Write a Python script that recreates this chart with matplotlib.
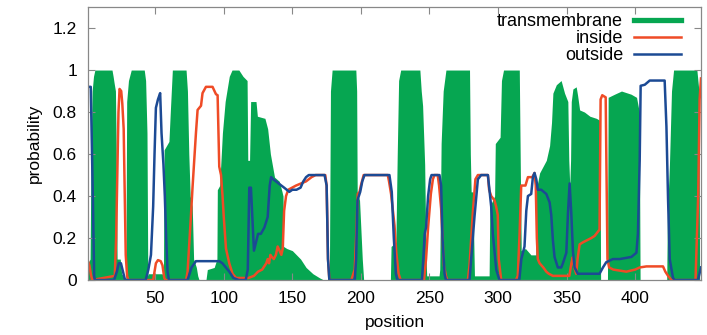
import numpy as np
import matplotlib
matplotlib.use('Agg')
import matplotlib.pyplot as plt

# --- data (position, probability) ---
tm_pos = [1, 2.5, 3.2, 4, 5, 6, 18.5, 19.3, 20, 21, 21.6, 22.2, 23, 24.5, 25.5, 28,
          28.6, 29.2, 30.5, 32.5, 42, 43, 44, 44.6, 45, 55,
          56, 56.5, 60, 61, 62.5, 72.5, 73.5, 74.5, 75.5, 77, 78, 79, 80, 81, 82, 87, 88, 93, 95,
          95.3, 97, 99, 101, 104, 106, 111, 114, 117, 117.5, 118.8, 119.6, 120.5, 123.5, 124.5,
          130, 132, 134, 137, 140.5, 142.5, 143.2, 143.6, 146, 150, 153, 156, 160, 165, 170, 173,
          177, 177.8, 179, 196.3, 196.9, 197.3, 199, 201, 202, 221.5,
          222, 225.5, 226.5, 227.5, 229, 243, 244, 245, 246.5, 247.5, 248, 257,
          257.5, 258.5, 260, 262, 279.2, 279.8, 280.4, 281.6, 282.8, 293.5,
          294, 297.5, 298, 301.5, 302.5, 304, 315.5, 316.3, 316.9, 320, 324, 327.5,
          327.9, 330.3, 335.2, 337.6, 339, 340, 342.5, 346, 348.5, 350.9, 351.6, 352.3, 352.9,
          353.4, 354.6, 357, 358, 359.5, 363, 367, 371.7, 374.3, 374.8, 379.8,
          380.3, 385, 390, 397, 401, 403, 403.6, 423,
          423.5, 425, 426.5, 428, 445, 446.5, 447, 448]
tm_val = [0.08, 0.1, 0.6, 0.9, 0.97, 1.0, 1.0, 0.97, 0.94, 0.9, 0.6, 0.1, 0.1, 0.1, 0.03, 0.01,
          0.0, 0.85, 0.95, 1.0, 1.0, 0.95, 0.7, 0.02, 0.03, 0.03,
          0.02, 0.62, 0.66, 0.8, 1.0, 1.0, 0.9, 0.6, 0.4, 0.35, 0.1, 0.08, 0.06, 0.02, 0.0, 0.0, 0.05, 0.06, 0.1,
          0.43, 0.45, 0.7, 0.85, 0.97, 1.0, 1.0, 0.97, 0.95, 0.57, 0.57, 0.85, 0.85, 0.85, 0.78,
          0.77, 0.72, 0.6, 0.49, 0.47, 0.42, 0.4, 0.16, 0.15, 0.14, 0.12, 0.1, 0.06, 0.03, 0.01, 0.0,
          0.0, 0.9, 1.0, 1.0, 0.9, 0.42, 0.38, 0.1, 0.0, 0.0,
          0.16, 0.18, 0.6, 0.95, 1.0, 1.0, 0.9, 0.83, 0.55, 0.1, 0.02, 0.02,
          0.05, 0.65, 0.9, 1.0, 1.0, 0.6, 0.42, 0.42, 0.02, 0.02,
          0.35, 0.4, 0.65, 0.68, 0.95, 1.0, 1.0, 0.5, 0.14, 0.15, 0.12, 0.12,
          0.43, 0.51, 0.57, 0.64, 0.75, 0.89, 0.93, 0.95, 0.89, 0.85, 0.57, 0.45, 0.57,
          0.85, 0.91, 0.92, 0.88, 0.81, 0.8, 0.78, 0.77, 0.76, 0.0, 0.0,
          0.87, 0.885, 0.9, 0.885, 0.87, 0.8, 0.0, 0.0,
          0.3, 0.55, 0.9, 1.0, 1.0, 0.9, 0.0, 0.0]

in_pos = [1, 2, 3, 4, 20.5, 21.5, 22.5, 23.2, 24, 25.2, 26, 27, 27.8, 28.5, 29.5, 30.5,
          48.5, 49.5, 50.5, 52, 54, 55.3, 56.6, 57.5,
          72.5, 73.6, 76, 77.2, 79.7, 80.9, 83.4, 84.5, 87, 91.8, 94.3, 95.5, 96.7, 98, 99.1,
          100, 101.6, 104, 106.4, 109, 118, 122, 125, 128, 131, 132, 133, 134, 135, 136.5,
          138, 139.3, 142, 143, 144, 145.4, 147, 152.7, 160, 164, 167, 174, 175, 176, 177,
          193, 195.5, 196.5, 197.7, 199, 200, 202, 219.6, 220.5, 222, 223, 224.5, 225.8, 227.5, 229,
          246, 247.5, 249, 251, 252.5, 253.6, 256, 257, 258.5, 259.5, 260.5, 262, 263,
          278, 279.2, 281.6, 283.5, 285.3, 292.6, 293.5, 295, 297.4, 298.6, 299.8, 300.5, 302.3,
          313, 314.4, 315.7, 316.9, 320, 321.8, 325, 326.6, 327.5, 328.3, 329, 330.3, 333,
          335.2, 337, 340, 352, 353.5, 354.6, 355.6, 357, 358, 359.5, 362, 365, 368, 370.4,
          372.8, 374, 374.8, 376, 378.5, 379.3, 379.8, 381, 384, 393.6, 400, 403.3, 408.2,
          420.3, 422, 424, 426.4, 444, 445, 446, 447, 448]
in_val = [0.09, 0.07, 0.03, 0.0, 0.02, 0.2, 0.55, 0.8, 0.91, 0.9, 0.84, 0.72, 0.4, 0.12, 0.02, 0.0,
          0.0, 0.04, 0.08, 0.095, 0.09, 0.07, 0.01, 0.0,
          0.0, 0.04, 0.3, 0.44, 0.7, 0.81, 0.83, 0.89, 0.92, 0.92, 0.885, 0.88, 0.54, 0.5, 0.4,
          0.3, 0.15, 0.08, 0.03, 0.01, 0.01, 0.02, 0.04, 0.05, 0.08, 0.1, 0.08, 0.12, 0.11, 0.1,
          0.12, 0.16, 0.12, 0.15, 0.33, 0.4, 0.43, 0.45, 0.47, 0.49, 0.5, 0.5, 0.45, 0.1, 0.0,
          0.0, 0.05, 0.2, 0.41, 0.42, 0.45, 0.5, 0.5, 0.47, 0.41, 0.35, 0.26, 0.13, 0.03, 0.0,
          0.0, 0.1, 0.25, 0.41, 0.48, 0.5, 0.5, 0.45, 0.34, 0.2, 0.07, 0.02, 0.0,
          0.0, 0.07, 0.32, 0.48, 0.5, 0.5, 0.43, 0.4, 0.38, 0.35, 0.31, 0.1, 0.0,
          0.0, 0.02, 0.22, 0.45, 0.45, 0.49, 0.49, 0.51, 0.45, 0.2, 0.1, 0.08, 0.06,
          0.04, 0.03, 0.02, 0.02, 0.08, 0.11, 0.06, 0.03, 0.1, 0.17, 0.18, 0.19, 0.2, 0.21,
          0.23, 0.24, 0.86, 0.88, 0.87, 0.4, 0.1, 0.06, 0.05, 0.04, 0.05, 0.06, 0.065,
          0.065, 0.04, 0.02, 0.0, 0.0, 0.2, 0.41, 0.86, 0.96]

out_pos = [1, 3, 4.5, 5.5, 6, 20, 22, 23.5, 25, 26.5, 28,
           43, 45, 46.9, 48.5, 49.5, 50.5, 52, 53.6, 54.6, 56, 57, 58, 59, 60,
           73.6, 76.5, 79.7, 96.7, 99, 101.5, 104, 107, 111,
           116, 117.5, 118.6, 119.8, 120.8, 122, 123.5, 125, 127, 129.6, 132, 133.5, 134.5, 136,
           140, 144, 147.8, 150, 153, 156, 158, 160, 162, 166, 173.5, 175, 176, 177,
           195.5, 196.5, 197.5, 199.5, 201, 202.6, 220.8, 222.5, 224, 225.5, 226.6,
           244.5, 245.5, 246.5, 247.5, 249, 250.5, 251.5, 257.3, 258.5, 259.5, 261, 262,
           279.2, 280.4, 282.8, 285.3, 287.7, 292.6, 295, 296.2, 298.7, 301,
           315.5, 317, 319.3, 320.6, 321.8, 324.2, 325.4, 326.6, 327.9, 329, 331.5, 335.2,
           337.6, 338.8, 340, 341.2, 343.6, 346.1, 347.3, 349.8, 351, 352.2, 353.4, 354.6,
           355.8, 358.2, 374, 376.5, 378.9, 383.8, 388.7, 397.2, 400.9, 402, 403.3, 404,
           407, 410.6, 421.5, 422.8, 424, 425.2, 427.6, 428.8, 445.8, 448]
out_val = [0.92, 0.92, 0.4, 0.02, 0.0, 0.0, 0.04, 0.08, 0.08, 0.04, 0.0,
           0.0, 0.05, 0.12, 0.35, 0.6, 0.82, 0.86, 0.89, 0.7, 0.55, 0.4, 0.2, 0.04, 0.0,
           0.0, 0.06, 0.09, 0.09, 0.08, 0.06, 0.04, 0.01, 0.0,
           0.0, 0.05, 0.44, 0.44, 0.3, 0.14, 0.18, 0.22, 0.22, 0.25, 0.3, 0.45, 0.49, 0.48,
           0.46, 0.44, 0.42, 0.43, 0.43, 0.44, 0.47, 0.49, 0.5, 0.5, 0.5, 0.45, 0.1, 0.0,
           0.0, 0.1, 0.38, 0.42, 0.47, 0.5, 0.5, 0.42, 0.2, 0.03, 0.0,
           0.0, 0.1, 0.22, 0.25, 0.4, 0.48, 0.5, 0.5, 0.45, 0.2, 0.03, 0.0,
           0.0, 0.1, 0.3, 0.48, 0.5, 0.5, 0.35, 0.22, 0.05, 0.0,
           0.0, 0.1, 0.16, 0.33, 0.4, 0.41, 0.49, 0.51, 0.48, 0.43, 0.43, 0.41,
           0.37, 0.31, 0.19, 0.11, 0.06, 0.06, 0.08, 0.13, 0.32, 0.46, 0.32, 0.14,
           0.06, 0.03, 0.03, 0.06, 0.085, 0.1, 0.1, 0.11, 0.13, 0.22, 0.57, 0.925,
           0.93, 0.95, 0.95, 0.73, 0.38, 0.1, 0.01, 0.0, 0.0, 0.06]

xticks = [50, 100, 150, 200, 250, 300, 350, 400]
yticks = [0, 0.2, 0.4, 0.6, 0.8, 1.0, 1.2]
ytick_labels = ['0', '0.2', '0.4', '0.6', '0.8', '1', '1.2']
legend_labels = ['transmembrane', 'inside', 'outside']

green = '#06a651'
red = '#ef4b26'
blue = '#1c4a94'

plt.rcParams['font.family'] = ['Liberation Sans', 'DejaVu Sans']
plt.rcParams['font.size'] = 12.5

fig = plt.figure(figsize=(7.07, 3.35), dpi=100)
ax = fig.add_axes([0.1245, 0.164, 0.867, 0.815])

ax.fill_between(tm_pos, 0, tm_val, color=green, linewidth=0)
ax.plot(in_pos, in_val, color=red, linewidth=1.8)
ax.plot(out_pos, out_val, color=blue, linewidth=1.8)

ax.set_xlim(1, 448)
ax.set_ylim(0, 1.3)
ax.set_xticks(xticks)
ax.set_yticks(yticks)
ax.set_yticklabels(ytick_labels)
ax.tick_params(direction='in', top=True, right=True, length=5, color='#888888', pad=8)
for s in ax.spines.values():
    s.set_color('#888888')
    s.set_linewidth(0.9)

ax.set_xlabel('position', labelpad=6)
ax.set_ylabel('probability', labelpad=8)

# legend: text first, sample line after it
h_tm = plt.Line2D([], [], color=green, linewidth=3.8)
h_in = plt.Line2D([], [], color=red, linewidth=1.8)
h_out = plt.Line2D([], [], color=blue, linewidth=1.8)
ax.legend([h_tm, h_in, h_out], legend_labels, fontsize=13,
          loc='upper right', bbox_to_anchor=(0.982, 1.01), frameon=False,
          markerfirst=False, handlelength=2.6, handletextpad=0.6,
          labelspacing=0.0, borderpad=0.0)

fig.savefig('out.png', dpi=100)
